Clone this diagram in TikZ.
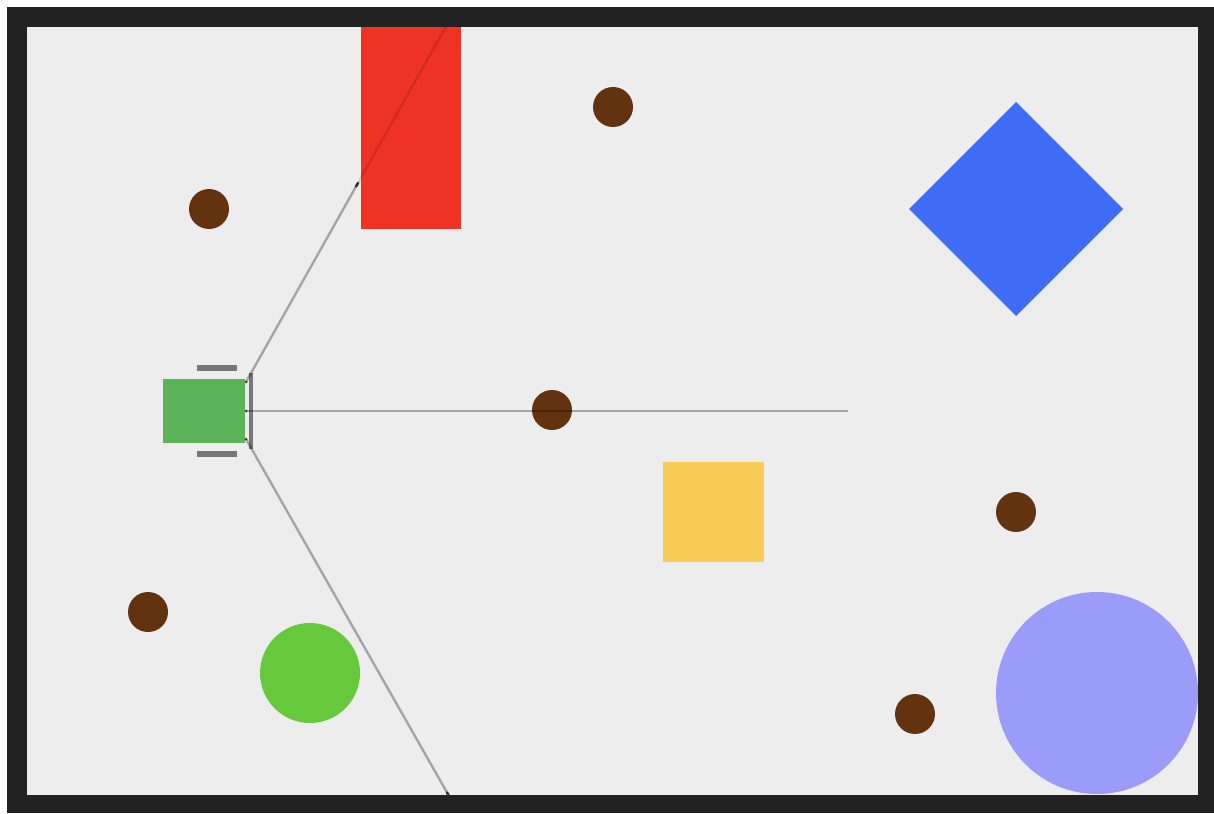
\documentclass[tikz,border=0pt]{standalone}
\begin{document}
\begin{tikzpicture}[x=1pt,y=-1pt,
  dot/.style={fill=dotbrown, draw=none},
  ray/.style={draw=black, draw opacity=0.3, line width=2.4pt},
  faintray/.style={draw=black, draw opacity=0.12, line width=2.4pt},
  hit/.style={draw=black!80, line width=2.5pt, line cap=round},
  wheel/.style={fill=wheelgrey, draw=none},
  sensor/.style={circle, fill=black!70, inner sep=0pt, minimum size=3pt}]
\definecolor{framec}{HTML}{222222}
\definecolor{floorc}{HTML}{EDEDED}
\definecolor{redc}{HTML}{EE3224}
\definecolor{bluec}{HTML}{3F6CF7}
\definecolor{yellowc}{HTML}{F8CB55}
\definecolor{greenc}{HTML}{66C93B}
\definecolor{lavc}{HTML}{9B9CF9}
\definecolor{dotbrown}{HTML}{63330F}
\definecolor{robotc}{HTML}{5CB35A}
\definecolor{wheelgrey}{HTML}{777777}
\useasboundingbox (0,0) rectangle (1214,813);
\fill[white] (0,0) rectangle (1214,813);
\fill[framec] (7,7) rectangle (1214,813);
\fill[floorc] (27,27) rectangle (1198,795);
\begin{scope}
\clip (27,27) rectangle (1198,795);
% obstacles
\fill[redc] (361,27) rectangle (461,229);
\fill[bluec] (1016,102) -- (1123,209) -- (1016,316) -- (909,209) -- cycle;
\fill[yellowc] (663,462) rectangle (764,562);
\fill[greenc] (310,673) circle (50);
\fill[lavc] (1097,693) circle (101);
% brown dots
\fill[dot] (613,107) circle (20);
\fill[dot] (209,209) circle (20);
\fill[dot] (552,410) circle (20);
\fill[dot] (1016,512) circle (20);
\fill[dot] (148,612) circle (20);
\fill[dot] (915,714) circle (20);
% robot
\fill[robotc] (163,379) rectangle (245,443);
\fill[wheel] (197,365) rectangle (237,371);
\fill[wheel] (197,451) rectangle (237,457);
\fill[wheel] (249,373) rectangle (253,449);
\node[sensor] (s1) at (246,382) {};
\node[sensor] (s2) at (246,411) {};
\node[sensor] (s3) at (246,439) {};
\coordinate (h1) at (358,183);
\coordinate (e1) at (457,7);
\coordinate (e2) at (848,411);
\coordinate (h3) at (449,796);
% rays
\draw[ray] (s1.center) -- (h1);
\draw[faintray] (h1) -- (e1);
\draw[ray] (s2.center) -- (e2);
\draw[ray] (s3.center) -- (h3);
\draw[hit] (h1) -- ++(-2,3.5);
\draw[hit] (h3) -- ++(-2,-3.5);
\end{scope}
\end{tikzpicture}
\end{document}
